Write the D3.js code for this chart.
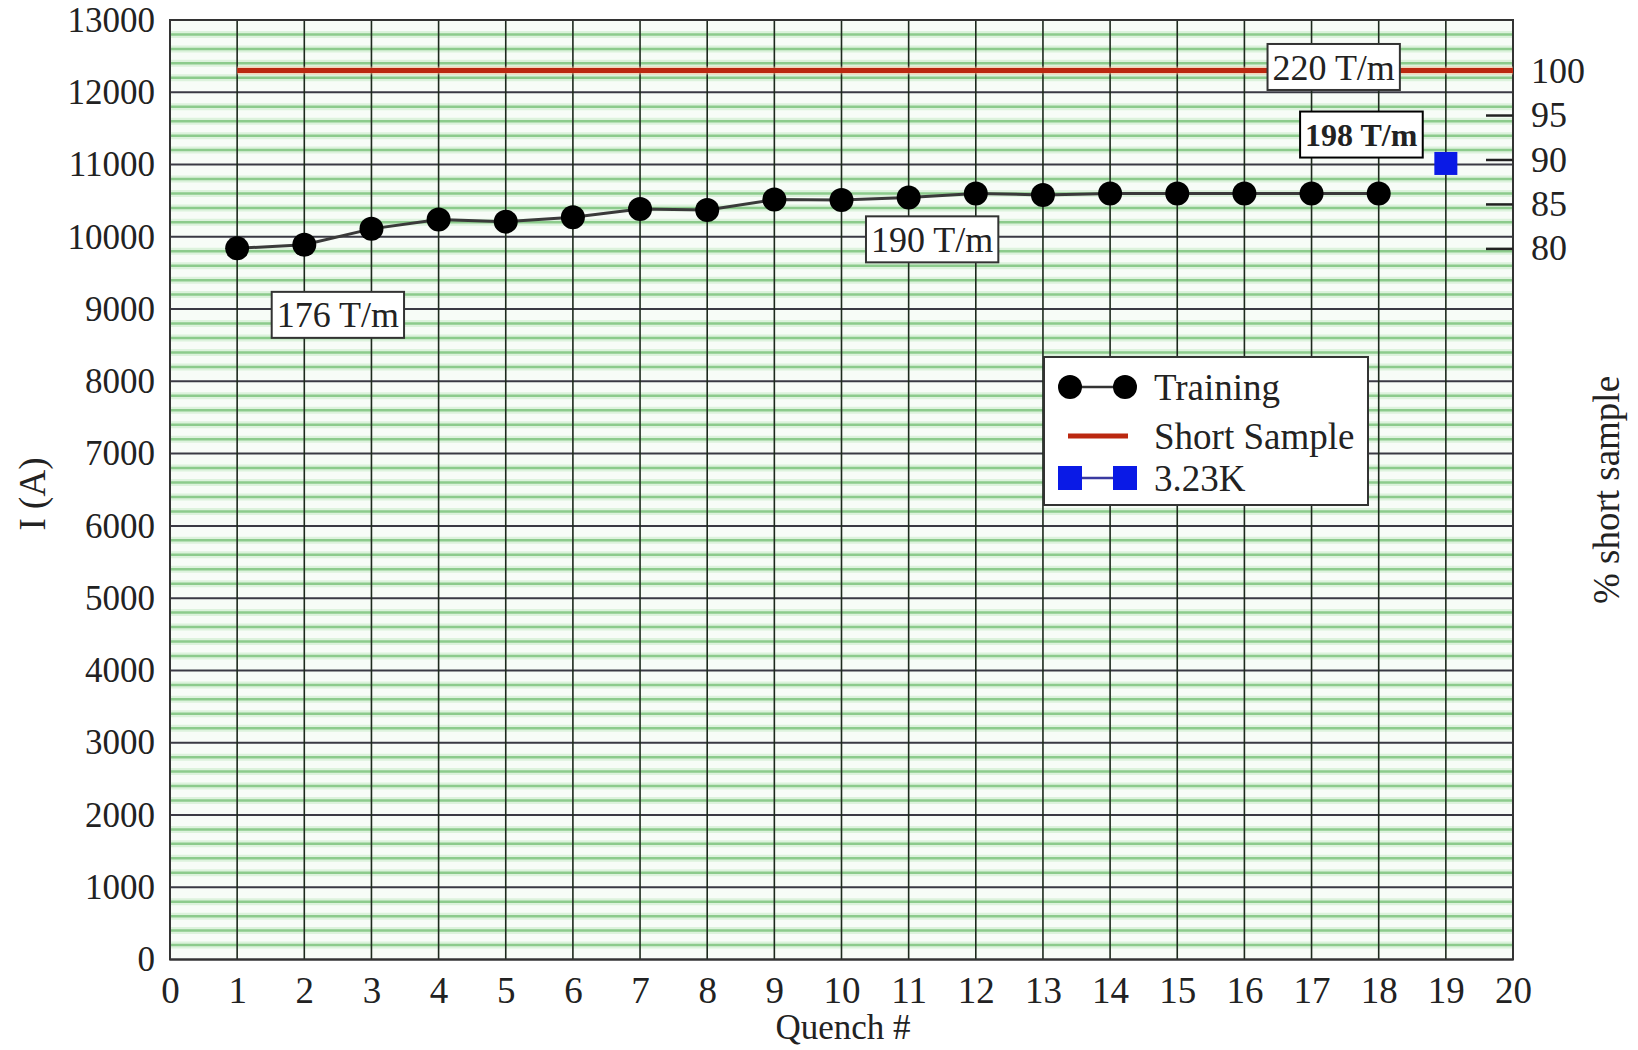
<!DOCTYPE html>
<html>
<head>
<meta charset="utf-8">
<script src="https://cdn.jsdelivr.net/npm/d3@7"></script>
<style>
  body { margin: 0; background: #fff; }
  text { font-family: "Liberation Serif", "Times New Roman", serif; fill: #222; }
</style>
</head>
<body>
<div id="chart"></div>
<script>
// data
var quench = [1, 2, 3, 4, 5, 6, 7, 8, 9, 10, 11, 12, 13, 14, 15, 16, 17, 18];
var training = [9840, 9890, 10110, 10240, 10210, 10270, 10385, 10370, 10515, 10510,
                10545, 10600, 10580, 10600, 10600, 10600, 10600, 10600];
var coldQuench = [19];
var coldCurrent = [11015];
var shortSample = 12300;
var shortSampleRange = [1, 20];
var xTicks = d3.range(0, 21);
var yTicks = d3.range(0, 13001, 1000);
var pctTicks = [80, 85, 90, 95, 100];
var notes = [
  {text: "176 T/m", q: 2.5, i: 8920, bold: false},
  {text: "190 T/m", q: 11.35, i: 9965, bold: false},
  {text: "220 T/m", q: 17.33, i: 12350, bold: false},
  {text: "198 T/m", q: 17.74, i: 11415, bold: true}
];
var legendItems = ["Training", "Short Sample", "3.23K"];

var W = 1638, H = 1050;
var pL = 170, pR = 1513, pT = 20, pB = 959.5;

var svg = d3.select("#chart").append("svg")
    .attr("width", W).attr("height", H);

var x = d3.scaleLinear().domain([0, 20]).range([pL, pR]);
var y = d3.scaleLinear().domain([0, 13000]).range([pB, pT]);
var pct = d3.scaleLinear().domain([0, 100]).range([y(0), y(shortSample)]);

// plot background and grid
svg.append("rect")
    .attr("x", pL).attr("y", pT)
    .attr("width", pR - pL).attr("height", pB - pT)
    .attr("fill", "#f7fcf7");

var minor = d3.range(200, 13000, 200).filter(function(v){ return v % 1000 != 0; });
svg.append("g").selectAll("line").data(minor).enter().append("line")
    .attr("x1", pL).attr("x2", pR)
    .attr("y1", function(d){ return y(d); }).attr("y2", function(d){ return y(d); })
    .attr("stroke", "#dcf2dc").attr("stroke-width", 7);
svg.append("g").selectAll("line").data(minor).enter().append("line")
    .attr("x1", pL).attr("x2", pR)
    .attr("y1", function(d){ return y(d); }).attr("y2", function(d){ return y(d); })
    .attr("stroke", "#8ccb8c").attr("stroke-width", 2.5);

svg.append("g").selectAll("line").data(yTicks).enter().append("line")
    .attr("x1", pL).attr("x2", pR)
    .attr("y1", function(d){ return y(d); }).attr("y2", function(d){ return y(d); })
    .attr("stroke", "#3a3a44").attr("stroke-width", 2);

svg.append("g").selectAll("line").data(xTicks).enter().append("line")
    .attr("x1", function(d){ return x(d); }).attr("x2", function(d){ return x(d); })
    .attr("y1", pT).attr("y2", pB)
    .attr("stroke", "#1e2a1e").attr("stroke-width", 1.6);

svg.append("rect")
    .attr("x", pL).attr("y", pT)
    .attr("width", pR - pL).attr("height", pB - pT)
    .attr("fill", "none").attr("stroke", "#333").attr("stroke-width", 2);

// axes
var yAxis = svg.append("g")
    .attr("transform", "translate(" + pL + ",0)")
    .call(d3.axisLeft(y).tickValues(yTicks).tickFormat(d3.format("d")).tickSize(0).tickPadding(15));
var xAxis = svg.append("g")
    .attr("transform", "translate(0," + pB + ")")
    .call(d3.axisBottom(x).tickValues(xTicks).tickFormat(d3.format("d")).tickSize(0).tickPadding(17));
var pAxis = svg.append("g")
    .attr("transform", "translate(" + pR + ",0)")
    .call(d3.axisRight(pct).tickValues(pctTicks).tickSize(-27).tickPadding(18));

[[yAxis, 35], [xAxis, 37], [pAxis, 36]].forEach(function(a){
  a[0].select(".domain").remove();
  a[0].selectAll("text").style("font-size", a[1] + "px").attr("fill", "#222")
      .style("font-family", "'Liberation Serif', serif");
});
pAxis.selectAll(".tick line").attr("stroke", "#222").attr("stroke-width", 2.5);

// axis titles
svg.append("text").attr("x", 843).attr("y", 1039)
    .attr("text-anchor", "middle").style("font-size", "35px").text("Quench #");
svg.append("text").attr("transform", "translate(45,494) rotate(-90)")
    .attr("text-anchor", "middle").style("font-size", "37px").text("I (A)");
svg.append("text").attr("transform", "translate(1619,490) rotate(-90)")
    .attr("text-anchor", "middle").style("font-size", "37px").text("% short sample");

// short sample line
svg.append("line")
    .attr("x1", x(shortSampleRange[0])).attr("x2", x(shortSampleRange[1]))
    .attr("y1", y(shortSample)).attr("y2", y(shortSample))
    .attr("stroke", "#f0b080").attr("stroke-width", 8).attr("opacity", 0.5);
svg.append("line")
    .attr("x1", x(shortSampleRange[0])).attr("x2", x(shortSampleRange[1]))
    .attr("y1", y(shortSample)).attr("y2", y(shortSample))
    .attr("stroke", "#bb2810").attr("stroke-width", 5);

// training
var line = d3.line()
    .x(function(d, i){ return x(quench[i]); })
    .y(function(d){ return y(d); });
svg.append("path").datum(training)
    .attr("d", line).attr("fill", "none")
    .attr("stroke", "#3a3a3a").attr("stroke-width", 3);
svg.append("g").selectAll("circle").data(training).enter().append("circle")
    .attr("cx", function(d, i){ return x(quench[i]); })
    .attr("cy", function(d){ return y(d); })
    .attr("r", 12).attr("fill", "#000");

// 3.23K point
svg.append("g").selectAll("rect").data(coldCurrent).enter().append("rect")
    .attr("x", function(d, i){ return x(coldQuench[i]) - 11.5; })
    .attr("y", function(d){ return y(d) - 11.5; })
    .attr("width", 23).attr("height", 23)
    .attr("fill", "#0a1ae6");

// text boxes
notes.forEach(function(n){
  var g = svg.append("g");
  var t = g.append("text")
      .attr("x", x(n.q)).attr("y", y(n.i))
      .attr("text-anchor", "middle").attr("dy", "0.35em")
      .style("font-size", n.bold ? "32px" : "36px")
      .style("font-weight", n.bold ? "bold" : "normal")
      .attr("fill", n.bold ? "#000" : "#222")
      .text(n.text);
  var b = t.node().getBBox();
  g.insert("rect", "text")
      .attr("x", b.x - 5).attr("y", y(n.i) - 23)
      .attr("width", b.width + 10).attr("height", 46)
      .attr("fill", "#fff").attr("stroke", n.bold ? "#000" : "#333")
      .attr("stroke-width", 2);
});

// legend
var lg = svg.append("g").attr("transform", "translate(1044,357)");
lg.append("rect").attr("width", 324).attr("height", 148)
    .attr("fill", "#fff").attr("stroke", "#333").attr("stroke-width", 2);
var rows = [30, 79, 121];
lg.append("line").attr("x1", 26).attr("x2", 81).attr("y1", rows[0]).attr("y2", rows[0])
    .attr("stroke", "#333").attr("stroke-width", 2.5);
[26, 81].forEach(function(cx){
  lg.append("circle").attr("cx", cx).attr("cy", rows[0]).attr("r", 12).attr("fill", "#000");
});
lg.append("line").attr("x1", 24).attr("x2", 84).attr("y1", rows[1]).attr("y2", rows[1])
    .attr("stroke", "#bb2810").attr("stroke-width", 5);
lg.append("line").attr("x1", 26).attr("x2", 81).attr("y1", rows[2]).attr("y2", rows[2])
    .attr("stroke", "#3a3aa0").attr("stroke-width", 2.5);
[26, 81].forEach(function(cx){
  lg.append("rect").attr("x", cx - 12).attr("y", rows[2] - 12)
      .attr("width", 24).attr("height", 24).attr("fill", "#0a1ae6");
});
lg.selectAll("text.item").data(legendItems).enter().append("text")
    .attr("class", "item")
    .attr("x", 110).attr("y", function(d, i){ return rows[i]; })
    .attr("dy", "0.35em")
    .style("font-size", "37px")
    .text(function(d){ return d; });
</script>
</body>
</html>
